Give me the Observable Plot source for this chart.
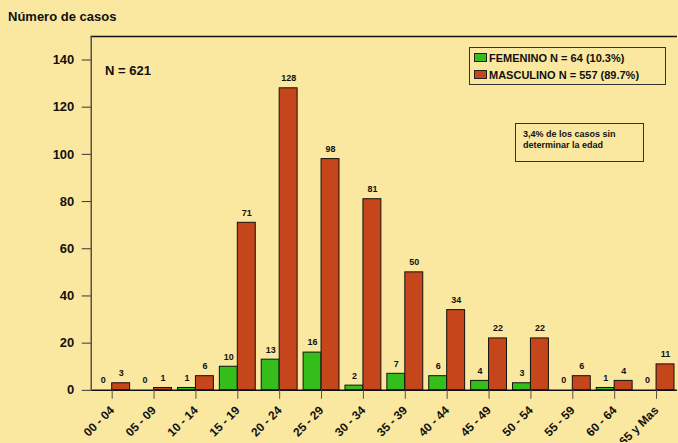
<!DOCTYPE html>
<html><head><meta charset="utf-8">
<script src="https://cdn.jsdelivr.net/npm/d3@7"></script>
<script src="https://cdn.jsdelivr.net/npm/@observablehq/plot@0.6"></script>
<style>
html,body{margin:0;padding:0;background:#fae8a0;overflow:hidden;}
body{width:678px;height:443px;position:relative;font-family:Arial,"Liberation Sans",sans-serif;font-weight:bold;color:#111;}
div{font-weight:bold;}
svg text{font-weight:bold;}
#title{position:absolute;left:8px;top:9px;font-size:13px;}
#legend{position:absolute;left:469px;top:47px;width:197px;height:38px;border:1px solid #333;font-size:11px;box-sizing:border-box;padding:2px 0 0 4px;}
#legend .row{height:17px;line-height:17px;white-space:nowrap;}
#legend .sw{display:inline-block;width:11px;height:7px;border:1px solid #222;margin-right:2px;vertical-align:0px;}
#note{position:absolute;left:515px;top:123px;width:129px;height:39px;border:1px solid #333;box-sizing:border-box;font-size:9px;line-height:11px;padding:5px 0 0 7px;}
#nlabel{position:absolute;left:105px;top:63px;font-size:13px;}
#chart{position:absolute;left:0;top:0;}
</style></head>
<body>
<div id="chart"></div>
<div id="title">Número de casos</div>
<div id="nlabel">N = 621</div>
<div id="legend"></div>
<div id="note">3,4% de los casos sin<br>determinar la edad</div>
<script>
const ages = ["00 - 04","05 - 09","10 - 14","15 - 19","20 - 24","25 - 29","30 - 34","35 - 39","40 - 44","45 - 49","50 - 54","55 - 59","60 - 64","65 y Mas"];
const femenino = [0,0,1,10,13,16,2,7,6,4,3,0,1,0];
const masculino = [3,1,6,71,128,98,81,50,34,22,22,6,4,11];
const seriesNames = ["FEMENINO N = 64 (10.3%)","MASCULINO N = 557 (89.7%)"];
const colors = ["#35bd1c","#c4461a"];
const yTicks = [0,20,40,60,80,100,120,140];

const fem = ages.map((a,i)=>({age:a,value:femenino[i]}));
const mas = ages.map((a,i)=>({age:a,value:masculino[i]}));

const lg = document.getElementById("legend");
seriesNames.forEach((n,i)=>{
  const r=document.createElement("div");r.className="row";
  r.innerHTML=`<span class="sw" style="background:${colors[i]}"></span>${n}`;
  lg.appendChild(r);
});

const plot = Plot.plot({
  width: 680, height: 443,
  marginLeft: 91, marginRight: 1, marginTop: 36, marginBottom: 52,
  style: {background: "transparent", fontFamily: "Arial, 'Liberation Sans', sans-serif", fontWeight: "bold", color: "#111"},
  x: {type: "band", domain: ages, padding: 0, label: null},
  y: {domain: [0,150], label: null},
  marks: [
    Plot.barY(fem, {x:"age", y:"value", fill: colors[0], stroke:"#111", strokeWidth:1, insetLeft:3, insetRight:21}),
    Plot.barY(mas, {x:"age", y:"value", fill: colors[1], stroke:"#111", strokeWidth:1, insetLeft:21, insetRight:3}),
    Plot.text(fem, {x:"age", y:"value", text: d=>String(d.value), dx:-9, dy:-10, fontSize:9, fontWeight:"bold", fill:"#111"}),
    Plot.text(mas, {x:"age", y:"value", text: d=>String(d.value), dx:9, dy:-10, fontSize:9, fontWeight:"bold", fill:"#111"}),
    Plot.ruleY([0], {stroke:"#111", strokeWidth:1.5}),
    Plot.ruleY([150], {stroke:"#111", strokeWidth:1.5}),
    Plot.frame({anchor:"left", stroke:"#5a5040", strokeWidth:1.5}),
    Plot.axisY({ticks: yTicks, tickSize: 9, tickPadding: 8, fontSize: 13, fontWeight:"bold", stroke:"#333", label:null}),
    Plot.axisX({tickSize: 9, tickRotate: -45, tickPadding: 9, fontSize: 12, fontWeight:"bold", stroke:"#5a5040", label:null, textAnchor:"end"})
  ]
});
document.getElementById("chart").appendChild(plot);
</script>
</body></html>
